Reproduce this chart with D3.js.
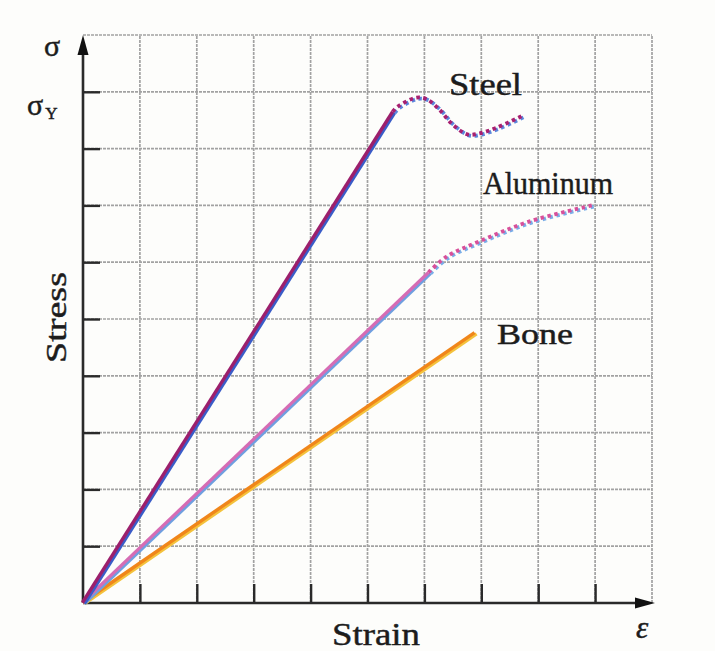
<!DOCTYPE html>
<html><head><meta charset="utf-8">
<script src="https://cdn.jsdelivr.net/npm/d3@7"></script>
<style>
html,body{margin:0;padding:0;background:#fdfdfb;}
svg{display:block;}
svg text{font-family:'Liberation Serif','Times New Roman',Times,serif;}
</style></head><body>
<svg id="c" width="715" height="651"></svg>
<script>
// grid units (0..10 on both axes)
const gridTicks = [1,2,3,4,5,6,7,8,9];
const steelSolid = [[0,0],[5.45,8.64]];
const steelYield = [[5.45,8.64],[5.54,8.73],[5.87,8.89],[6.05,8.86],[6.27,8.68],[6.50,8.42],[6.77,8.24],[6.98,8.26],[7.28,8.36],[7.73,8.57]];
const aluSolid = [[0,0],[6.08,5.81]];
const aluYield = [[6.08,5.81],[6.40,6.09],[6.98,6.36],[7.86,6.71],[8.95,6.99]];
const boneSolid = [[0,0],[6.89,4.75]];
const labels = ["Steel","Aluminum","Bone"];

const svg = d3.select("#c");
const x = d3.scaleLinear().domain([0,10]).range([83,652]);
const y = d3.scaleLinear().domain([0,10]).range([603,35]);

// grid
const g = svg.append("g");
g.selectAll("line.v").data(d3.range(1,11)).join("line")
  .attr("x1",d=>x(d)).attr("x2",d=>x(d)).attr("y1",y(0)).attr("y2",y(10))
  .attr("stroke","#a2a2a2").attr("stroke-width",1.7).attr("stroke-dasharray","3,1");
g.selectAll("line.h").data(d3.range(1,11)).join("line")
  .attr("x1",x(0)).attr("x2",x(10)).attr("y1",d=>y(d)).attr("y2",d=>y(d))
  .attr("stroke","#a2a2a2").attr("stroke-width",1.7).attr("stroke-dasharray","3,1");

// axes ticks via d3 axes
const ax = svg.append("g").attr("transform",`translate(0,${y(0)})`)
  .call(d3.axisBottom(x).tickValues(gridTicks).tickSizeInner(-19).tickSizeOuter(0).tickFormat(""));
const ay = svg.append("g").attr("transform",`translate(${x(0)},0)`)
  .call(d3.axisLeft(y).tickValues(gridTicks).tickSizeInner(-17).tickSizeOuter(0).tickFormat(""));
[ax,ay].forEach(a=>{a.select(".domain").remove();a.selectAll(".tick line").attr("stroke","#2a2a2a").attr("stroke-width",2.4);});

// axis lines + arrows
svg.append("line").attr("x1",x(0)).attr("y1",y(0)).attr("x2",x(0)).attr("y2",50)
  .attr("stroke","#2a2a2a").attr("stroke-width",2.6);
svg.append("line").attr("x1",x(0)).attr("y1",y(0)).attr("x2",638).attr("y2",y(0))
  .attr("stroke","#2a2a2a").attr("stroke-width",2.6);
svg.append("path").attr("d",`M${x(0)},35 L${x(0)-5.5},55 L${x(0)+5.5},55 Z`).attr("fill","#111");
svg.append("path").attr("d",`M655,${y(0)} L635,${y(0)-5.5} L635,${y(0)+5.5} Z`).attr("fill","#111");

// curves
const line = d3.line().x(d=>x(d[0])).y(d=>y(d[1]));
const curve = d3.line().x(d=>x(d[0])).y(d=>y(d[1])).curve(d3.curveCatmullRom);
function draw(data, gen, under, over, dashed, w){
  svg.append("path").datum(data).attr("d",gen).attr("fill","none")
    .attr("stroke",under).attr("stroke-width",w).attr("transform","translate(1.5,0.7)")
    .attr("stroke-dasharray",dashed?"3.5,3.5":null);
  svg.append("path").datum(data).attr("d",gen).attr("fill","none")
    .attr("stroke",over).attr("stroke-width",w).attr("transform","translate(-0.5,-0.5)")
    .attr("stroke-dasharray",dashed?"3.5,3.5":null);
}
draw(boneSolid, line, "#f4c23c", "#f0861a", false, 3.4);
draw(aluSolid, line, "#6f9fe0", "#d66cb4", false, 3.2);
draw(aluYield, curve, "#7aaee8", "#d8509a", true, 3.8);
draw(steelSolid, line, "#3a5cc8", "#9c1f6c", false, 3.4);
draw(steelYield, curve, "#5a86dc", "#a82070", true, 3.8);

// labels
function txt(t, xx, yy, size, len){
  const e = svg.append("text").attr("x",xx).attr("y",yy)
    .attr("font-size",size).attr("fill","#1c1c1c").attr("stroke","#1c1c1c").attr("stroke-width",0.45).text(t);
  if(len) e.attr("textLength",len).attr("lengthAdjust","spacingAndGlyphs");
  return e;
}
txt(labels[0], 449, 95, 31, 73);
txt(labels[1], 483, 194, 32, 130);
txt(labels[2], 497, 344, 30, 76);
txt("Strain", 332, 645, 32, 88);
txt("Stress", 0, 0, 30, 91).attr("transform","translate(66,363) rotate(-90)");
txt("ε", 636, 638, 31).attr("font-style","italic");
txt("σ", 44, 56, 30);
const sy = txt("", 27, 115, 30);
sy.append("tspan").text("σ");
sy.append("tspan").attr("font-size",17).attr("dy",4).attr("dx",2).text("Y");
</script>
</body></html>
